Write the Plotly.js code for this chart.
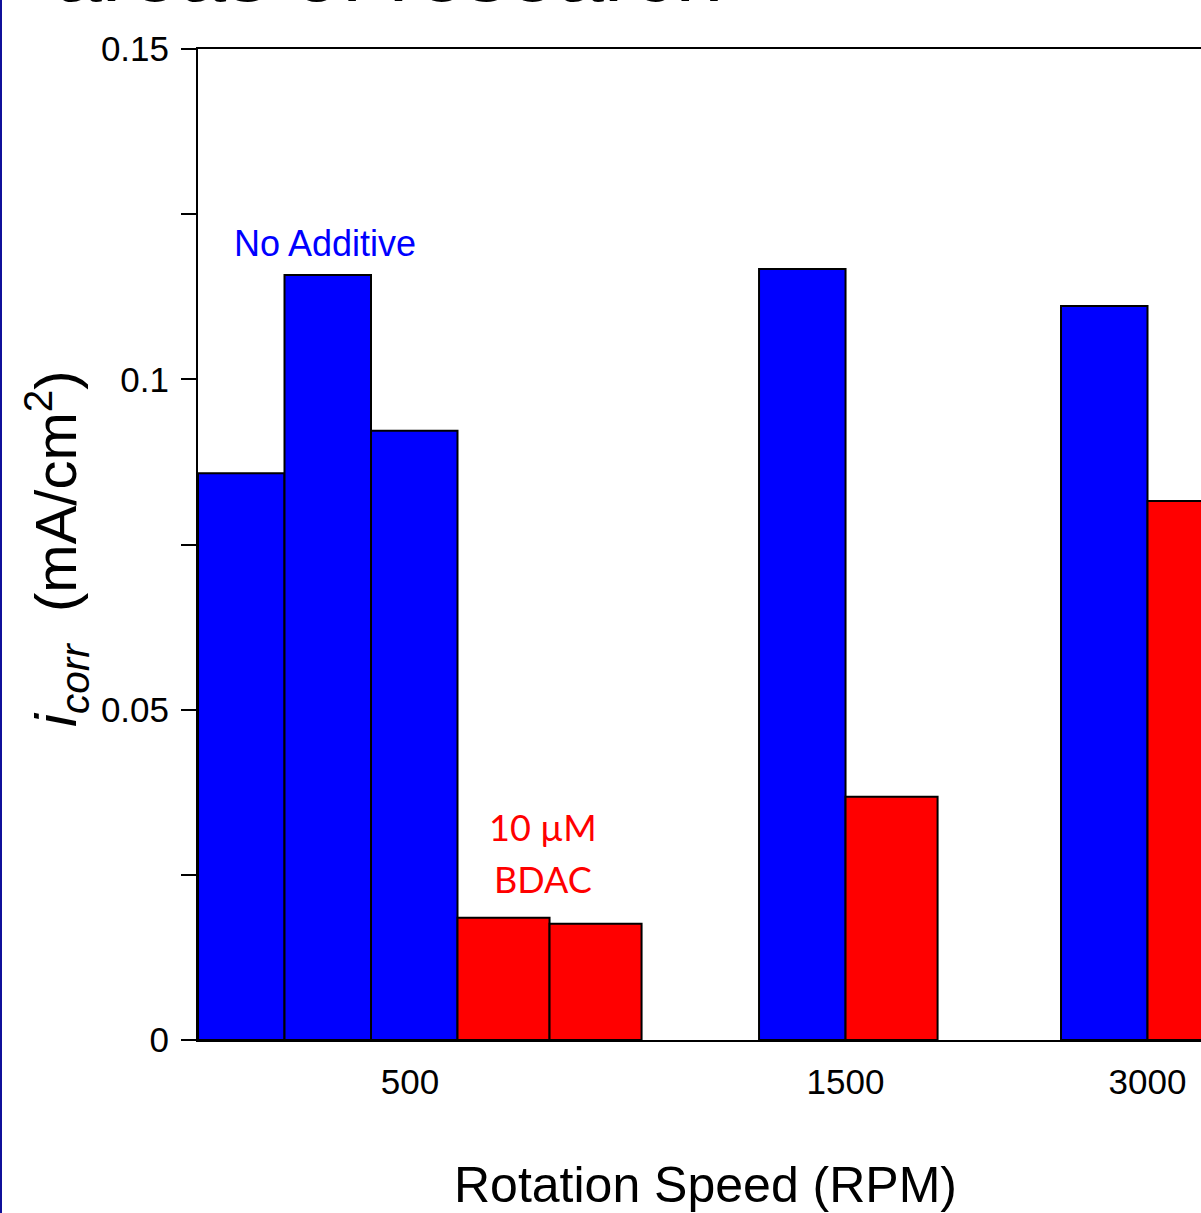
<!DOCTYPE html>
<html>
<head>
<meta charset="utf-8">
<script src="https://cdn.plot.ly/plotly-3.0.1.min.js"></script>
<style>
html, body { margin:0; padding:0; overflow:hidden; background:#fff; }
#chart { width:1330px; height:1213px; }
</style>
</head>
<body>
<div id="chart"></div>
<script>
// ---- data ----
const speedLabels = ['500', '1500', '3000'];
const noAdditiveSpeed = ['500', '500', '500', '1500', '3000'];
const noAdditiveIcorr = [0.0858, 0.1158, 0.0922, 0.1167, 0.1111];
const bdacSpeed = ['500', '500', '1500', '3000'];
const bdacIcorr = [0.0185, 0.0176, 0.0368, 0.0816];

// ---- layout (positions in bar-slot units) ----
const groupStart = { '500': 0, '1500': 6.486, '3000': 9.977 };
const labelPos = { '500': 2.45, '1500': 7.486, '3000': 10.977 };
const blueW = 1.0, redW = 1.064;

// compute bar centres: within each speed group, blue bars first then red
const cursor = {};
speedLabels.forEach(s => cursor[s] = groupStart[s]);
const blueX = [], redX = [];
noAdditiveSpeed.forEach(s => { blueX.push(cursor[s] + blueW / 2); cursor[s] += blueW; });
bdacSpeed.forEach(s => { redX.push(cursor[s] + redW / 2); cursor[s] += redW; });

const W = 1330, H = 1213, ml = 198, mt = 49, mb = 173;
const plotW = W - ml, plotH = H - mt - mb;
const unitPx = 86.5;
const xRange = [0, plotW / unitPx];

const sans = '"Liberation Sans", Arial, sans-serif';

const traces = [
  {
    type: 'bar', name: 'No Additive', x: blueX, y: noAdditiveIcorr,
    width: blueX.map(() => blueW),
    marker: { color: '#0000ff', line: { color: '#000', width: 2 } },
    hoverinfo: 'y'
  },
  {
    type: 'bar', name: '10 µM BDAC', x: redX, y: bdacIcorr,
    width: redX.map(() => redW),
    marker: { color: '#ff0000', line: { color: '#000', width: 2 } },
    hoverinfo: 'y'
  }
];

const layout = {
  width: W, height: H,
  margin: { l: ml, r: 0, t: mt, b: mb, pad: 0 },
  paper_bgcolor: '#fff', plot_bgcolor: '#fff',
  showlegend: false,
  bargap: 0,
  xaxis: {
    range: xRange, fixedrange: true,
    tickvals: speedLabels.map(s => labelPos[s]),
    ticktext: speedLabels,
    ticks: '', showgrid: false, zeroline: false,
    showline: true, linecolor: '#000', linewidth: 2, mirror: true,
    ticklabelstandoff: 10,
    tickfont: { family: sans, size: 35, color: '#000' }
  },
  yaxis: {
    range: [0, 0.15], fixedrange: true,
    tickvals: [0, 0.05, 0.1, 0.15],
    ticktext: ['0', '0.05', '0.1', '0.15'],
    ticks: 'outside', ticklen: 15, tickwidth: 2, tickcolor: '#000',
    minor: { tickvals: [0.025, 0.075, 0.125], ticks: 'outside', ticklen: 15, tickwidth: 2, tickcolor: '#000' },
    showgrid: false, zeroline: false,
    showline: true, linecolor: '#000', linewidth: 2, mirror: true,
    ticklabelstandoff: 5,
    tickfont: { family: sans, size: 35, color: '#000' }
  },
  annotations: [
    {
      xref: 'paper', yref: 'paper', x: (705 - ml) / plotW, y: (1040 - 1185) / plotH,
      xanchor: 'center', yanchor: 'middle', showarrow: false,
      text: 'Rotation Speed (RPM)',
      font: { family: sans, size: 50, color: '#000' }
    },
    {
      xref: 'paper', yref: 'paper', x: (56 - ml) / plotW, y: (1040 - 549) / plotH,
      xanchor: 'center', yanchor: 'middle', showarrow: false, textangle: -90,
      text: '<i>i</i><sub><i>corr</i></sub>  (mA/cm<sup>2</sup>)',
      font: { family: sans, size: 58, color: '#000' }
    },
    {
      xref: 'x', yref: 'y', x: 1.47, y: 0.1206,
      xanchor: 'center', yanchor: 'middle', showarrow: false,
      text: 'No Additive',
      font: { family: sans, size: 36, color: '#0000ff' }
    },
    {
      xref: 'x', yref: 'y', x: 3.99, y: 0.0322,
      xanchor: 'center', yanchor: 'middle', showarrow: false,
      text: '10 µM',
      font: { family: 'Lato, "Open Sans", sans-serif', size: 36, color: '#ff0000' }
    },
    {
      xref: 'x', yref: 'y', x: 3.99, y: 0.0244,
      xanchor: 'center', yanchor: 'middle', showarrow: false,
      text: 'BDAC',
      font: { family: 'Lato, "Open Sans", sans-serif', size: 36, color: '#ff0000' }
    },
    {
      xref: 'paper', yref: 'paper', x: (52 - ml) / plotW, y: (1040 - 21) / plotH,
      xanchor: 'left', yanchor: 'bottom', showarrow: false,
      text: 'areas of research',
      font: { family: sans, size: 86, color: '#000' }
    }
  ],
  shapes: [
    {
      type: 'rect', xref: 'paper', yref: 'paper',
      x0: -ml / plotW, x1: (2 - ml) / plotW,
      y0: -mb / plotH - 0.01, y1: 1 + mt / plotH + 0.01,
      fillcolor: '#10109a', line: { width: 0 }
    }
  ]
};

Plotly.newPlot('chart', traces, layout, { displayModeBar: false, staticPlot: true });
</script>
</body>
</html>
